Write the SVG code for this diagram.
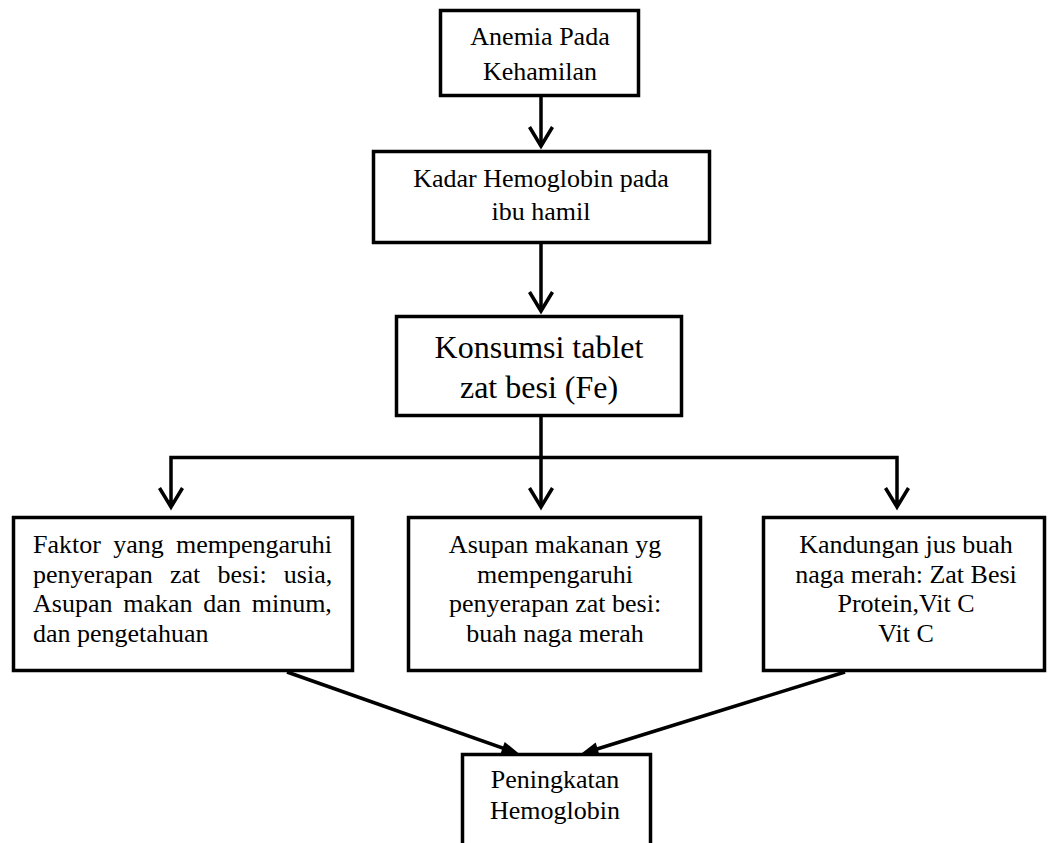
<svg xmlns="http://www.w3.org/2000/svg" width="1048" height="843" viewBox="0 0 1048 843">
<style>
.box{fill:#fff;stroke:#000;stroke-width:3.5}
.t{font-family:"Liberation Serif","Times New Roman",serif;font-size:26px;fill:#000}
.c{text-anchor:middle}
.big{font-size:32px}
.ln{fill:none;stroke:#000;stroke-width:3.5}
</style>
<defs>
<marker id="chev" markerUnits="userSpaceOnUse" markerWidth="40" markerHeight="40" viewBox="-30 -20 40 40" refX="0" refY="0" orient="auto" overflow="visible">
<path d="M -19 -11.5 L 0 0 L -19 11.5" fill="none" stroke="#000" stroke-width="3.5"/>
</marker>
<marker id="tri" markerUnits="userSpaceOnUse" markerWidth="30" markerHeight="30" viewBox="-20 -15 30 30" refX="0" refY="0" orient="auto" overflow="visible">
<path d="M -9 -6.5 L 9 0 L -9 6.5 Z" fill="#000"/>
</marker>
</defs>
<g id="connectors">
<line class="ln" x1="541" y1="96" x2="541" y2="146" marker-end="url(#chev)"/>
<line class="ln" x1="541" y1="243" x2="541" y2="311" marker-end="url(#chev)"/>
<line class="ln" x1="541" y1="416" x2="541" y2="507" marker-end="url(#chev)"/>
<polyline class="ln" points="171,507 171,457.5 897,457.5 897,507"/>
<line class="ln" x1="171" y1="500" x2="171" y2="507" marker-end="url(#chev)"/>
<line class="ln" x1="897" y1="500" x2="897" y2="507" marker-end="url(#chev)"/>
<line class="ln" x1="287" y1="672" x2="511" y2="751" marker-end="url(#tri)"/>
<line class="ln" x1="845" y1="672" x2="589" y2="751.5" marker-end="url(#tri)"/>
</g>
<g id="n1">
<rect class="box" x="440.5" y="10.5" width="198" height="85"/>
<text class="t c" x="540" y="45">Anemia Pada</text>
<text class="t c" x="540" y="80">Kehamilan</text>
</g>
<g id="n2">
<rect class="box" x="373.5" y="151.5" width="336" height="91"/>
<text class="t c" x="541" y="187">Kadar Hemoglobin pada</text>
<text class="t c" x="541" y="220">ibu hamil</text>
</g>
<g id="n3">
<rect class="box" x="396.5" y="316.5" width="285" height="99"/>
<text class="t c big" x="539" y="358">Konsumsi tablet</text>
<text class="t c big" x="539" y="398">zat besi (Fe)</text>
</g>
<g id="n4">
<rect class="box" x="13.5" y="517.5" width="339" height="153"/>
<text class="t" x="33" y="553" word-spacing="5.8">Faktor yang mempengaruhi</text>
<text class="t" x="33" y="583" word-spacing="10.7">penyerapan zat besi: usia,</text>
<text class="t" x="33" y="612" word-spacing="4.3">Asupan makan dan minum,</text>
<text class="t" x="33" y="642">dan pengetahuan</text>
</g>
<g id="n5">
<rect class="box" x="408.5" y="517.5" width="292" height="153"/>
<text class="t c" x="555" y="553">Asupan makanan yg</text>
<text class="t c" x="555" y="583">mempengaruhi</text>
<text class="t c" x="555" y="612">penyerapan zat besi:</text>
<text class="t c" x="555" y="642">buah naga merah</text>
</g>
<g id="n6">
<rect class="box" x="763.5" y="517.5" width="281" height="153"/>
<text class="t c" x="906" y="553">Kandungan jus buah</text>
<text class="t c" x="906" y="583">naga merah: Zat Besi</text>
<text class="t c" x="906" y="612">Protein,Vit C</text>
<text class="t c" x="906" y="642">Vit C</text>
</g>
<g id="n7">
<rect class="box" x="462.5" y="754.5" width="188" height="120"/>
<text class="t c" x="555" y="788">Peningkatan</text>
<text class="t c" x="555" y="819">Hemoglobin</text>
</g>
</svg>
